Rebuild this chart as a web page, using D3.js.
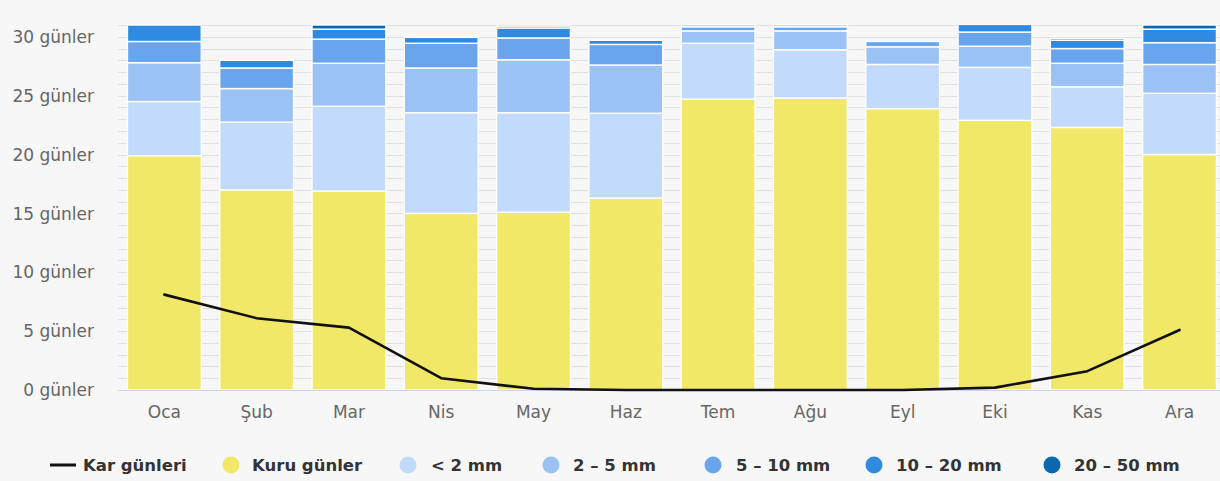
<!DOCTYPE html>
<html><head><meta charset="utf-8">
<script src="https://cdn.jsdelivr.net/npm/d3@7"></script>
<style>
html,body{margin:0;padding:0;background:#f7f7f7;}
svg{display:block;}
</style></head>
<body>
<svg id="chart" width="1220" height="481"></svg>
<script>
const months = ["Oca","Şub","Mar","Nis","May","Haz","Tem","Ağu","Eyl","Eki","Kas","Ara"];
const dryDays   = [19.9, 17.0, 16.9, 15.0, 15.1, 16.3, 24.7, 24.8, 23.9, 22.9, 22.3, 20.0];
const rainLt2   = [4.6, 5.75, 7.2, 8.55, 8.45, 7.2, 4.75, 4.1, 3.75, 4.5, 3.45, 5.2];
const rain2to5  = [3.3, 2.85, 3.65, 3.8, 4.5, 4.1, 1.05, 1.6, 1.5, 1.8, 2.0, 2.45];
const rain5to10 = [1.8, 1.75, 2.05, 2.1, 1.85, 1.75, 0.35, 0.35, 0.45, 1.2, 1.25, 1.85];
const rain10to20= [1.4, 0.65, 0.85, 0.5, 0.85, 0.35, 0.15, 0.15, 0, 0.65, 0.7, 1.15];
const rain20to50= [0, 0, 0.35, 0, 0.15, 0, 0, 0, 0, 0, 0.15, 0.35];
const snowDays  = [8.1, 6.1, 5.3, 1.0, 0.1, 0, 0, 0, 0, 0.2, 1.6, 5.1];
const yTicks = [0, 5, 10, 15, 20, 25, 30];
const seriesNames = ["Kuru günler", "< 2 mm", "2 – 5 mm", "5 – 10 mm", "10 – 20 mm", "20 – 50 mm"];
const seriesColors = ["#f0e866", "#c2dafb", "#9ac2f4", "#69a5ec", "#2f8be2", "#0b68ad"];
const snowName = "Kar günleri";

const svg = d3.select("#chart");
const W = 1220, H = 481;
const plot = {left: 118.2, right: 1225.7, top: 25, bottom: 390};

const x = d3.scaleBand().domain(months).range([plot.left, plot.right]).paddingInner(0.2).paddingOuter(0.1);
const y = d3.scaleLinear().domain([0, 31]).range([plot.bottom, plot.top]);

// grid
svg.append("g").selectAll("line").data(d3.range(0, 32)).join("line")
  .attr("x1", plot.left).attr("x2", W)
  .attr("y1", d => Math.round(y(d)) + 0.5).attr("y2", d => Math.round(y(d)) + 0.5)
  .attr("stroke", "#e0e0e0").attr("stroke-width", 1);

// stacked data
const table = months.map((m, i) => ({
  month: m, s0: dryDays[i], s1: rainLt2[i], s2: rain2to5[i], s3: rain5to10[i], s4: rain10to20[i], s5: rain20to50[i]
}));
const keys = ["s0","s1","s2","s3","s4","s5"];
const stacked = d3.stack().keys(keys)(table);

svg.append("g").selectAll("g").data(stacked).join("g")
  .attr("fill", (d, i) => seriesColors[i])
  .selectAll("rect").data(d => d.filter(p => p[1] - p[0] > 0)).join("rect")
  .attr("x", d => x(d.data.month))
  .attr("width", x.bandwidth())
  .attr("y", d => y(d[1]))
  .attr("height", d => y(d[0]) - y(d[1]))
  .attr("stroke", "#ffffff").attr("stroke-width", 1.4);

// baseline axis line
svg.append("line").attr("x1", plot.left).attr("x2", W)
  .attr("y1", plot.bottom + 0.5).attr("y2", plot.bottom + 0.5)
  .attr("stroke", "#ccd6eb").attr("stroke-width", 1);

// snow line
const line = d3.line().x((d, i) => x(months[i]) + x.bandwidth() / 2).y(d => y(d));
svg.append("path").datum(snowDays).attr("d", line)
  .attr("fill", "none").attr("stroke", "#111").attr("stroke-width", 2.6)
  .attr("stroke-linejoin", "round").attr("stroke-linecap", "round");

// y axis labels
const yAxis = d3.axisLeft(y).tickValues(yTicks).tickSize(0).tickPadding(0).tickFormat(d => d + " günler");
const yg = svg.append("g").attr("transform", "translate(94,0)").call(yAxis);
yg.select(".domain").remove();
yg.selectAll("text").attr("font-family", "DejaVu Sans").attr("font-size", 17).attr("fill", "#666").attr("dy", "0.33em");

// x axis labels
const xAxis = d3.axisBottom(x).tickSize(0).tickPadding(0);
const xg = svg.append("g").attr("transform", "translate(0,412)").call(xAxis);
xg.select(".domain").remove();
xg.selectAll("text").attr("font-family", "DejaVu Sans").attr("font-size", 17).attr("fill", "#666").attr("dy", "0.33em");

// legend
const legendY = 465;
const legendSymX = [50, 231, 408, 551, 713, 874, 1052];
const legendTextX = [83, 252, 431, 573, 736, 896, 1074];
const lg = svg.append("g").attr("font-family", "DejaVu Sans").attr("font-weight", "bold").attr("font-size", 16.5).attr("fill", "#333");
lg.append("line").attr("x1", legendSymX[0]).attr("x2", legendSymX[0] + 26)
  .attr("y1", legendY).attr("y2", legendY).attr("stroke", "#111").attr("stroke-width", 3);
lg.append("text").attr("x", legendTextX[0]).attr("y", legendY).attr("dy", "0.35em").text(snowName);
seriesNames.forEach((n, i) => {
  lg.append("circle").attr("cx", legendSymX[i + 1]).attr("cy", legendY).attr("r", 8.5).attr("fill", seriesColors[i]);
  lg.append("text").attr("x", legendTextX[i + 1]).attr("y", legendY).attr("dy", "0.35em").text(n);
});
</script>
</body></html>
